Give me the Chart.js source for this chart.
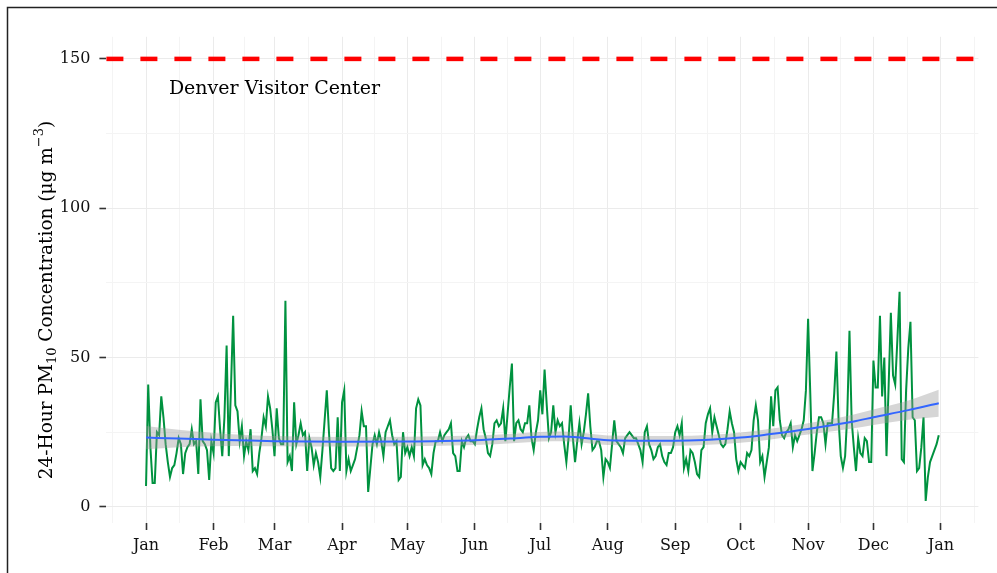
<!DOCTYPE html>
<html lang="en">
<head>
<meta charset="UTF-8">
<title>Denver Visitor Center - 24-Hour PM10</title>
<script src="https://cdn.jsdelivr.net/npm/chart.js"></script>
<style>
  html, body { margin: 0; padding: 0; background: #fff; }
  #wrap { width: 997px; height: 573px; }
</style>
</head>
<body>
<div id="wrap"><canvas id="pmChart" width="997" height="573"></canvas></div>
<script>
// daily 24-hour PM10 (ug/m3), day 0 = Jan 1
const pm10 = [
  7, 41, 20, 8, 8, 25, 24, 37, 30, 21,
  15, 10, 13, 14, 18, 23, 21, 11, 18, 20,
  21, 26, 21, 22, 11, 36, 22, 21, 19, 9,
  22, 18, 35, 37, 26, 17, 30, 54, 17, 40,
  64, 34, 32, 22, 27, 17, 22, 19, 26, 12,
  13, 11, 18, 23, 30, 27, 37, 33, 26, 17,
  33, 23, 21, 21, 69, 15, 17, 12, 35, 21,
  24, 28, 24, 25, 12, 23, 20, 14, 18, 15,
  10, 19, 29, 39, 25, 13, 12, 13, 30, 12,
  35, 39, 12, 16, 12, 14, 16, 20, 24, 32,
  27, 27, 5, 13, 21, 24, 21, 25, 22, 17,
  25, 27, 29, 24, 21, 22, 9, 10, 25, 18,
  20, 17, 20, 17, 33, 36, 34, 14, 16, 14,
  13, 11, 18, 22, 22, 25, 22, 24, 25, 26,
  28, 18, 17, 12, 12, 22, 20, 23, 24, 22,
  22, 21, 26, 30, 33, 26, 23, 18, 17, 21,
  28, 29, 27, 28, 33, 22, 31, 40, 48, 22,
  28, 29, 26, 25, 28, 28, 34, 23, 19, 25,
  29, 39, 31, 46, 34, 23, 25, 34, 25, 29,
  27, 28, 21, 15, 23, 34, 23, 15, 22, 28,
  21, 25, 31, 38, 27, 19, 20, 22, 22, 19,
  10, 16, 15, 13, 21, 29, 22, 21, 20, 18,
  23, 24, 25, 24, 23, 23, 21, 19, 15, 25,
  27, 21, 19, 16, 17, 20, 21, 17, 15, 14,
  18, 18, 20, 25, 27, 24, 28, 13, 16, 12,
  19, 18, 15, 11, 10, 19, 20, 28, 31, 33,
  25, 30, 27, 24, 21, 20, 21, 26, 32, 28,
  25, 16, 12, 15, 14, 13, 18, 17, 19, 29,
  34, 29, 15, 17, 10, 15, 20, 37, 27, 39,
  40, 29, 24, 23, 25, 26, 28, 20, 24, 22,
  24, 26, 29, 39, 63, 38, 12, 18, 25, 30,
  30, 28, 21, 28, 28, 28, 38, 52, 29, 17,
  13, 17, 31, 59, 29, 20, 12, 23, 18, 17,
  23, 22, 15, 15, 49, 40, 40, 64, 37, 50,
  17, 41, 65, 44, 41, 56, 72, 16, 15, 39,
  53, 62, 30, 29, 12, 13, 20, 30, 2, 10,
  15, 17, 19, 21, 24
];

// loess smooth and its 95% band
const fitDays  = [0, 15, 31, 48, 59, 90, 120, 151, 170, 181, 192, 212, 243, 273, 286, 304, 325, 334, 350, 364];
const fitValue = [23.2, 22.9, 22.5, 22.2, 22.0, 21.8, 21.9, 22.3, 23.0, 23.5, 23.6, 22.3, 22.1, 23.2, 24.3, 26.1, 28.6, 30.0, 32.4, 34.7];
const fitLower = [19.3, 20.0, 20.3, 20.4, 20.3, 20.2, 20.3, 20.7, 21.4, 21.9, 22.0, 20.7, 20.5, 21.5, 22.5, 24.2, 26.3, 27.4, 29.2, 30.2];
const fitUpper = [27.1, 25.8, 24.7, 24.0, 23.7, 23.4, 23.5, 23.9, 24.6, 25.1, 25.2, 23.9, 23.7, 24.9, 26.1, 28.0, 30.9, 32.6, 35.6, 39.2];

// axis breaks
const monthStarts = [0, 31, 59, 90, 120, 151, 181, 212, 243, 273, 304, 334, 365];
const monthLabels = ['Jan', 'Feb', 'Mar', 'Apr', 'May', 'Jun', 'Jul', 'Aug', 'Sep', 'Oct', 'Nov', 'Dec', 'Jan'];
const yMajor = [0, 50, 100, 150];
const yMinor = [25, 75, 125];

const standard = 150;              // 24-hour PM10 NAAQS
const siteName = 'Denver Visitor Center';
const siteLabelDay = 59;
const siteLabelValue = 140;

// minor x breaks sit halfway between month starts
const edges = [-31].concat(monthStarts, [396]);
const xMinor = [];
for (let i = 0; i < edges.length - 1; i++) xMinor.push((edges[i] + edges[i + 1]) / 2);

const xTicks = monthStarts.concat(xMinor).sort((a, b) => a - b);
const yTicks = yMajor.concat(yMinor).sort((a, b) => a - b);

const SERIF = '"DejaVu Serif", "Liberation Serif", serif';
const isMajorX = v => monthStarts.includes(v);
const isMajorY = v => yMajor.includes(v);

const overlay = {
  id: 'overlay',
  beforeDatasetsDraw(chart) {
    const { ctx, chartArea: a, scales: { y } } = chart;
    const py = y.getPixelForValue(standard);
    ctx.save();
    ctx.strokeStyle = '#FF0000';
    ctx.lineWidth = 4.5;
    ctx.setLineDash([17, 17]);
    ctx.beginPath();
    ctx.moveTo(a.left, py);
    ctx.lineTo(a.right, py);
    ctx.stroke();
    ctx.restore();
  },
  afterDraw(chart) {
    const { ctx, scales: { x, y } } = chart;
    ctx.save();

    // site name
    ctx.fillStyle = '#000';
    ctx.font = '19px ' + SERIF;
    ctx.textAlign = 'center';
    ctx.textBaseline = 'middle';
    ctx.fillText(siteName, x.getPixelForValue(siteLabelDay), y.getPixelForValue(siteLabelValue));

    // y title with subscript / superscript
    const big = '18.5px ' + SERIF, small = '13px ' + SERIF;
    const parts = [
      { t: '24-Hour PM', f: big, dy: 0 },
      { t: '10', f: small, dy: 4 },
      { t: ' Concentration (\u03BCg m', f: big, dy: 0 },
      { t: '\u22123', f: small, dy: -9 },
      { t: ')', f: big, dy: 0 }
    ];
    let total = 0;
    parts.forEach(p => { ctx.font = p.f; p.w = ctx.measureText(p.t).width; total += p.w; });
    ctx.translate(52, 300);
    ctx.rotate(-Math.PI / 2);
    ctx.textAlign = 'left';
    ctx.textBaseline = 'alphabetic';
    let cx = -total / 2;
    parts.forEach(p => { ctx.font = p.f; ctx.fillText(p.t, cx, p.dy); cx += p.w; });
    ctx.restore();

    // outer frame
    ctx.save();
    ctx.strokeStyle = '#222';
    ctx.lineWidth = 1.5;
    ctx.beginPath();
    ctx.moveTo(7.5, chart.height + 5);
    ctx.lineTo(7.5, 7.5);
    ctx.lineTo(chart.width + 5, 7.5);
    ctx.stroke();
    ctx.restore();
  }
};

const toXY = (xs, ys) => xs.map((d, i) => ({ x: d, y: ys[i] }));

new Chart(document.getElementById('pmChart'), {
  type: 'line',
  data: {
    datasets: [
      {
        label: 'loess',
        data: toXY(fitDays, fitValue),
        borderColor: '#3366FF',
        borderWidth: 2,
        pointRadius: 0,
        cubicInterpolationMode: 'monotone',
        fill: false
      },
      {
        label: 'band upper',
        data: toXY(fitDays, fitUpper),
        borderWidth: 0,
        borderColor: 'rgba(0,0,0,0)',
        pointRadius: 0,
        cubicInterpolationMode: 'monotone',
        backgroundColor: 'rgba(153,153,153,0.4)',
        fill: '+1'
      },
      {
        label: 'band lower',
        data: toXY(fitDays, fitLower),
        borderWidth: 0,
        borderColor: 'rgba(0,0,0,0)',
        pointRadius: 0,
        cubicInterpolationMode: 'monotone',
        fill: false
      },
      {
        label: 'PM10',
        data: pm10.map((v, i) => ({ x: i, y: v })),
        borderColor: '#00923F',
        borderWidth: 2,
        pointRadius: 0,
        tension: 0,
        fill: false
      }
    ]
  },
  options: {
    responsive: false,
    animation: false,
    devicePixelRatio: 1,
    layout: { padding: { left: 0, top: 36.8, right: 18.6, bottom: 0 } },
    plugins: { legend: { display: false }, tooltip: { enabled: false } },
    scales: {
      x: {
        type: 'linear',
        min: -18.2,
        max: 382.2,
        afterFit: s => { s.height = 50; },
        afterBuildTicks: s => { s.ticks = xTicks.map(v => ({ value: v })); },
        ticks: {
          autoSkip: false,
          maxRotation: 0,
          padding: 6,
          color: '#111',
          font: { family: SERIF, size: 16 },
          callback: v => { const i = monthStarts.indexOf(v); return i >= 0 ? monthLabels[i] : ''; }
        },
        grid: {
          color: c => isMajorX(c.tick.value) ? '#EBEBEB' : '#F4F4F4',
          lineWidth: 1,
          tickColor: c => isMajorX(c.tick.value) ? '#333' : 'rgba(0,0,0,0)',
          tickLength: 7,
          tickWidth: 1.6
        },
        border: { display: false }
      },
      y: {
        type: 'linear',
        min: -5.4,
        max: 157.4,
        afterFit: s => { s.width = 106.4; },
        afterBuildTicks: s => { s.ticks = yTicks.map(v => ({ value: v })); },
        ticks: {
          autoSkip: false,
          padding: 9,
          color: '#111',
          font: { family: SERIF, size: 16 },
          callback: v => isMajorY(v) ? String(v) : ''
        },
        grid: {
          color: c => isMajorY(c.tick.value) ? '#EBEBEB' : '#F4F4F4',
          lineWidth: 1,
          tickColor: c => isMajorY(c.tick.value) ? '#333' : 'rgba(0,0,0,0)',
          tickLength: 7,
          tickWidth: 1.6
        },
        border: { display: false }
      }
    }
  },
  plugins: [overlay]
});
</script>
</body>
</html>
